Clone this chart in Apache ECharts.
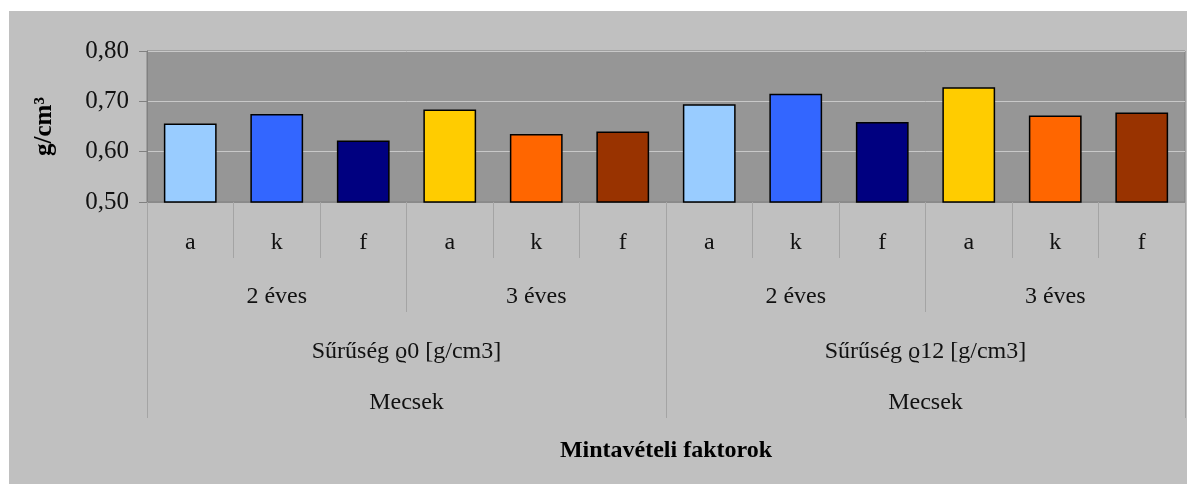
<!DOCTYPE html>
<html>
<head>
<meta charset="utf-8">
<script src="https://cdn.jsdelivr.net/npm/echarts@6/dist/echarts.min.js"></script>
<style>
html,body{margin:0;padding:0;background:#fff;}
#bg{position:absolute;left:9px;top:11px;width:1178px;height:473px;background:#C0C0C0;}
#chart{position:absolute;left:0;top:0;width:1187px;height:484px;}
</style>
</head>
<body>
<div id="bg"></div>
<div id="chart"></div>
<script>
const level1 = ['a','k','f','a','k','f','a','k','f','a','k','f'];
const level2 = ['2 éves','3 éves','2 éves','3 éves'];
const level3 = ['Sűrűség ϱ0 [g/cm3]','Sűrűség ϱ12 [g/cm3]'];
const level4 = ['Mecsek','Mecsek'];
const values = [0.656,0.675,0.622,0.684,0.635,0.640,0.694,0.715,0.659,0.728,0.672,0.678];
const colors = ['#99CCFF','#3366FF','#000080','#FFCC00','#FF6600','#993300','#99CCFF','#3366FF','#000080','#FFCC00','#FF6600','#993300'];
const yTicks = {min:0.5, max:0.8, interval:0.1};

const FONT = '"Liberation Serif", "Times New Roman", serif';
const chart = echarts.init(document.getElementById('chart'), null, {renderer:'canvas'});
const sepColor = '#A4A4A4';
function levelAxis(data, tickLen, margin, showTick){
  return {
    type:'category', data:data, position:'bottom', gridIndex:0,
    axisLine:{show:false},
    axisTick:{show:showTick, interval:0, length:tickLen, lineStyle:{color:sepColor, width:1}},
    axisLabel:{interval:0, margin:margin, verticalAlign:'middle', color:'#111', fontFamily:FONT, fontSize:24},
    splitLine:{show:false}
  };
}
const x0 = levelAxis(level1, 56, 41, true);
x0.axisLine = {show:true, lineStyle:{color:'#8A8A8A', width:1}};
const x3 = levelAxis(level4, 216, 201, false);
x3.name = 'Mintavételi faktorok';
x3.nameLocation = 'middle';
x3.nameGap = 237;
x3.nameTextStyle = {fontFamily:FONT, fontSize:24, fontWeight:'bold', color:'#000'};

chart.setOption({
  animation:false,
  backgroundColor:'transparent',
  grid:{left:147, top:51, right:2, height:151, show:true, backgroundColor:'#969696', borderColor:'#808080', borderWidth:1, containLabel:false},
  xAxis:[x0, levelAxis(level2, 110, 95, true), levelAxis(level3, 216, 150, true), x3],
  yAxis:{
    type:'value', min:yTicks.min, max:yTicks.max, interval:yTicks.interval,
    name:'g/cm³', nameLocation:'middle', nameRotate:90, nameGap:90,
    nameTextStyle:{fontFamily:FONT, fontSize:25, fontWeight:'bold', color:'#000'},
    axisLine:{show:true, lineStyle:{color:'#808080'}},
    axisTick:{show:true, length:8, lineStyle:{color:'#808080'}},
    axisLabel:{margin:18, color:'#111', fontFamily:FONT, fontSize:25, formatter:v=>v.toFixed(2).replace('.', ',')},
    splitLine:{show:true, lineStyle:{color:'#C8C8C8', width:1}}
  },
  series:[{
    type:'bar', xAxisIndex:0, barWidth:'61%',
    data: values.map((v,i)=>({value:v, itemStyle:{color:colors[i]}})),
    itemStyle:{borderColor:'#000', borderWidth:1.5}
  }]
});
</script>
</body>
</html>
